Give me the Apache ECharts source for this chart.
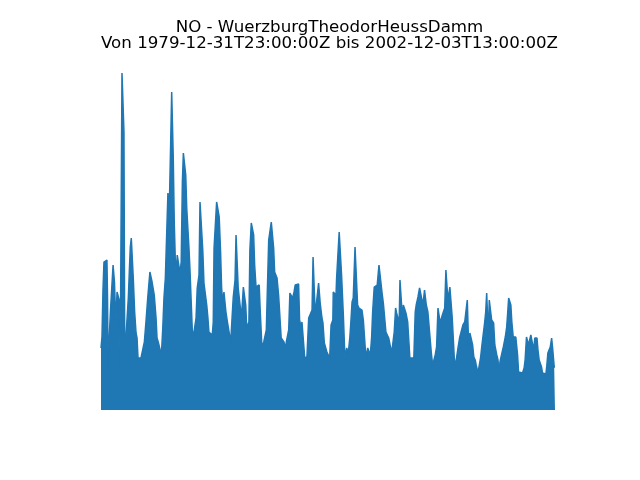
<!DOCTYPE html>
<html>
<head>
<meta charset="utf-8">
<script src="https://cdn.jsdelivr.net/npm/echarts@6/dist/echarts.min.js"></script>
<style>html,body{margin:0;padding:0;background:#fff}#c{width:640px;height:480px}</style>
</head>
<body>
<div id="c"></div>
<script>
const titleLine1 = 'NO - WuerzburgTheodorHeussDamm';
const titleLine2 = 'Von 1979-12-31T23:00:00Z bis 2002-12-03T13:00:00Z';

// time (decimal years) of envelope points
const years = [
1980.00,1980.05,1980.10,1980.15,1980.20,1980.30,1980.33,1980.35,1980.38,1980.40,
1980.48,1980.53,1980.61,1980.66,1980.68,1980.73,1980.76,1980.81,1980.88,1980.92,
1980.97,1981.04,1981.06,1981.15,1981.16,1981.20,1981.23,1981.26,1981.31,1981.38,
1981.43,1981.48,1981.53,1981.60,1981.63,1981.70,1981.77,1981.82,1981.87,1981.93,
1982.02,1982.11,1982.19,1982.27,1982.36,1982.41,1982.47,1982.53,1982.58,1982.64,
1982.69,1982.78,1982.83,1982.89,1982.98,1983.05,1983.12,1983.18,1983.25,1983.33,
1983.38,1983.45,1983.52,1983.57,1983.62,1983.65,1983.70,1983.75,1983.80,1983.85,
1983.94,1983.99,1984.05,1984.11,1984.16,1984.24,1984.28,1984.33,1984.41,1984.44,
1984.49,1984.56,1984.61,1984.66,1984.73,1984.80,1984.86,1984.95,1985.00,1985.09,
1985.14,1985.20,1985.29,1985.34,1985.40,1985.45,1985.54,1985.62,1985.67,1985.71,
1985.79,1985.84,1985.92,1985.97,1986.04,1986.09,1986.14,1986.21,1986.26,1986.31,
1986.37,1986.46,1986.55,1986.63,1986.68,1986.77,1986.82,1986.88,1986.93,1987.00,
1987.05,1987.10,1987.16,1987.19,1987.26,1987.31,1987.36,1987.42,1987.47,1987.52,
1987.59,1987.66,1987.71,1987.76,1987.83,1987.91,1987.99,1988.04,1988.13,1988.22,
1988.30,1988.35,1988.40,1988.47,1988.55,1988.60,1988.67,1988.72,1988.77,1988.84,
1988.89,1988.97,1989.05,1989.10,1989.17,1989.24,1989.31,1989.36,1989.41,1989.48,
1989.54,1989.61,1989.68,1989.75,1989.81,1989.90,1989.98,1990.03,1990.10,1990.15,
1990.24,1990.29,1990.35,1990.40,1990.49,1990.57,1990.66,1990.71,1990.76,1990.81,
1990.87,1990.94,1990.99,1991.04,1991.07,1991.16,1991.21,1991.28,1991.36,1991.41,
1991.50,1991.55,1991.62,1991.67,1991.71,1991.73,1991.82,1991.87,1991.90,1991.98,
1992.03,1992.10,1992.15,1992.24,1992.32,1992.41,1992.49,1992.57,1992.62,1992.68,
1992.74,1992.83,1992.91,1992.96,1993.03,1993.11,1993.18,1993.25,1993.32,1993.38,
1993.47,1993.55,1993.60,1993.67,1993.72,1993.80,1993.87,1993.95,1994.04,1994.12,
1994.19,1994.26,1994.33,1994.39,1994.46,1994.53,1994.59,1994.68,1994.76,1994.81,
1994.88,1994.93,1995.01,1995.06,1995.10,1995.19,1995.24,1995.27,1995.35,1995.40,
1995.49,1995.55,1995.60,1995.65,1995.80,1995.87,1995.92,1996.01,1996.09,1996.17,
1996.26,1996.34,1996.43,1996.51,1996.60,1996.68,1996.75,1996.82,1996.88,1996.95,
1997.02,1997.07,1997.13,1997.18,1997.24,1997.31,1997.36,1997.42,1997.49,1997.52,
1997.57,1997.62,1997.69,1997.74,1997.81,1997.86,1997.94,1998.03,1998.11,1998.20,
1998.28,1998.37,1998.45,1998.50,1998.57,1998.63,1998.70,1998.77,1998.83,1998.90,
1998.95,1999.04,1999.12,1999.17,1999.24,1999.31,1999.38,1999.43,1999.48,1999.54,
1999.56,1999.61,1999.68,1999.73,1999.78,1999.83,1999.89,1999.94,1999.99,2000.05,
2000.11,2000.15,2000.25,2000.32,2000.37,2000.42,2000.49,2000.54,2000.59,2000.65,
2000.70,2000.75,2000.82,2000.95,2001.04,2001.09,2001.29,2001.37,2001.42,2001.49,
2001.54,2001.59,2001.66,2001.71,2001.80,2001.85,2001.91,2002.02,2002.07,2002.13,
2002.18,2002.25,2002.30,2002.47,2002.52,2002.57,2002.64,2002.69,2002.76,2002.81,
2002.89,2002.93
];

// peak NO values (µg/m³) reached around each time
const peaks = [
124,146,240,296,300,300,224,124,80,130,
200,204,290,290,256,196,184,236,236,220,
90,90,674,674,556,90,90,146,150,224,
276,326,344,344,264,196,154,144,104,106,
104,104,136,176,224,224,276,280,256,254,
230,184,144,136,136,110,164,224,264,264,
434,404,536,636,636,504,376,304,270,310,
310,274,296,456,514,514,470,404,404,326,
284,284,160,146,148,184,244,270,416,416,
320,254,254,210,184,156,154,150,176,324,
324,416,416,386,316,246,216,236,240,196,
180,180,136,136,226,260,350,350,244,244,
200,190,194,246,246,210,164,164,176,320,
374,374,350,290,246,250,250,200,124,136,
136,160,236,340,340,376,376,324,276,276,
264,230,230,144,140,136,124,136,136,160,
234,234,224,236,250,252,252,180,166,176,
176,104,100,106,184,184,200,306,306,200,
210,210,254,254,214,184,174,134,134,116,
116,104,170,170,180,236,236,230,264,264,
356,356,270,190,104,124,114,146,176,216,
224,326,326,210,204,200,200,180,180,104,
124,124,110,146,196,246,250,250,290,290,
236,214,214,156,156,144,144,114,114,156,
204,194,194,174,260,260,174,210,210,194,
176,176,104,104,104,196,210,226,244,244,
210,240,210,196,196,116,90,90,110,126,
204,204,174,174,190,190,204,280,280,220,
220,246,246,184,130,90,100,124,144,146,
170,176,176,220,126,154,154,130,106,100,
90,74,74,104,130,130,176,196,234,234,
146,220,220,180,176,174,130,126,110,100,
74,96,96,126,130,146,166,194,224,224,
210,176,146,146,110,76,74,84,100,146,
146,130,130,150,150,120,144,144,120,100,
100,86,74,72,90,114,116,126,144,124,
86,86
];

const chart = echarts.init(document.getElementById('c'), null, {renderer: 'canvas'});
const data = years.map((t, i) => [t, peaks[i]]);
const blue = '#1f77b4';
chart.setOption({
  animation: false,
  backgroundColor: '#ffffff',
  grid: {left: 101, right: 85, top: 60, bottom: 70, containLabel: false},
  xAxis: {type: 'value', min: 1980.0, max: 2002.93, show: false},
  yAxis: {type: 'value', min: 0, max: 700, show: false},
  series: [{
    type: 'line',
    data: data,
    showSymbol: false,
    sampling: 'none',
    lineStyle: {color: blue, width: 1.5},
    areaStyle: {color: blue, opacity: 1},
    itemStyle: {color: blue},
    silent: true
  }],
  graphic: [
    {type: 'text', x: 329.5, y: 19, style: {text: titleLine1, font: '16.67px "DejaVu Sans"', fill: '#000', align: 'center', verticalAlign: 'top'}},
    {type: 'text', x: 329.5, y: 35, style: {text: titleLine2, font: '16.67px "DejaVu Sans"', fill: '#000', align: 'center', verticalAlign: 'top'}}
  ]
});
</script>
</body>
</html>
